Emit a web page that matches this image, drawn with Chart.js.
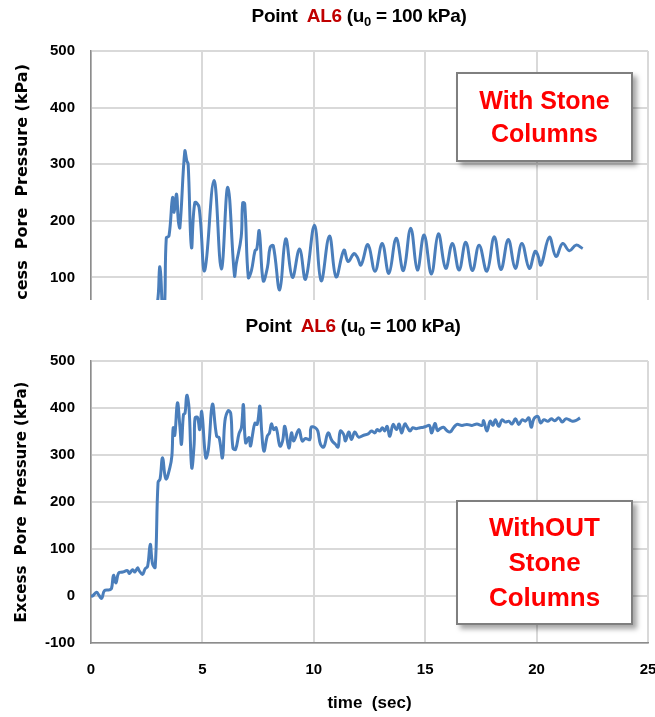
<!DOCTYPE html>
<html>
<head>
<meta charset="utf-8">
<script src="https://cdn.jsdelivr.net/npm/chart.js@4.4.1/dist/chart.umd.min.js"></script>
<style>
  body { margin: 0; background: #fff; width: 655px; height: 717px; position: relative; overflow: hidden; }
  .panel { position: absolute; left: 0; width: 655px; overflow: hidden; background: #fff; }
  .panel canvas { position: absolute; left: 0; top: 0; }
  .title {
    position: absolute; left: 0; width: 718px; text-align: center; z-index: 2;
    font: bold 19px "Liberation Sans", Arial, sans-serif; color: #000; letter-spacing: -0.3px;
  }
  .title .red { color: #c00000; }
  .title sub { font-size: 13px; vertical-align: -4px; }
  .note {
    position: absolute; left: 456px; width: 177px; box-sizing: border-box; z-index: 2;
    border: 2px solid #7f7f7f; background: #fff;
    box-shadow: 4px 4px 5px rgba(0, 0, 0, 0.35);
    display: flex; align-items: center; justify-content: center; text-align: center;
    color: #ff0000; font-family: "Liberation Sans", Arial, sans-serif; font-weight: bold;
  }
</style>
</head>
<body>

<div class="panel" style="top:0; height:300px;">
  <div class="title" style="top:5px;">Point&nbsp; <span class="red">AL6</span> (u<sub>0</sub> = 100 kPa)</div>
  <canvas id="withChart" width="655" height="408"></canvas>
  <div class="note" style="top:72px; height:90px; font-size:25px; line-height:33px;">With Stone<br>Columns</div>
</div>

<div class="panel" style="top:310px; height:407px;">
  <div class="title" style="top:5px; left:-6px;">Point&nbsp; <span class="red">AL6</span> (u<sub>0</sub> = 100 kPa)</div>
  <canvas id="withoutChart" width="655" height="407"></canvas>
  <div class="note" style="top:190px; height:125px; font-size:26px; line-height:35px;">WithOUT<br>Stone<br>Columns</div>
</div>

<script>
// time axis ticks (sec)
const timeTicks = [0, 5, 10, 15, 20, 25];

// With stone columns - time (sec) and excess pore pressure (kPa)
const withTime = [0, 0.4, 0.8, 1.2, 1.6, 2.0, 2.4, 2.8, 2.98, 3.08, 3.13, 3.22, 3.3, 3.38, 3.5, 3.66, 3.73, 3.84, 3.92, 3.99,
  4.21, 4.3, 4.36, 4.51, 4.66, 4.85, 5.1, 5.52, 5.85, 6.14, 6.44, 6.52, 6.74, 6.81, 6.9, 7.06, 7.2, 7.36, 7.44, 7.55,
  7.73, 7.92, 8.04, 8.18, 8.47, 8.74, 9.04, 9.36, 9.63, 10.03, 10.33, 10.7, 11.0, 11.35, 11.54, 11.8, 11.95, 12.12, 12.43, 12.75,
  13.07, 13.37, 13.7, 14.02, 14.35, 14.65, 14.95, 15.28, 15.59, 15.92, 16.22, 16.52, 16.82, 17.12, 17.42, 17.77, 18.1, 18.4, 18.73, 19.04,
  19.34, 19.67, 19.93, 20.05, 20.2, 20.57, 20.87, 21.17, 21.47, 21.77, 22.07];
const withPressure = [0, 3, 10, 25, 35, 38, 42, 45, 55, 118, 105, 40, 45, 170, 173, 241, 215, 247, 200, 188,
  323, 306, 300, 153, 232, 224, 112, 271, 115, 259, 103, 124, 171, 232, 230, 100, 112, 147, 150, 182,
  94, 118, 153, 156, 78, 168, 100, 150, 97, 192, 94, 173, 101, 148, 128, 142, 136, 122, 158, 111,
  160, 107, 169, 112, 187, 113, 175, 106, 177, 116, 160, 113, 162, 112, 157, 111, 172, 114, 167, 116,
  160, 116, 146, 140, 122, 171, 137, 160, 147, 157, 151];

// Without stone columns
const withoutTime = [0, 0.07, 0.25, 0.35, 0.48, 0.6, 0.82, 0.92, 1.01, 1.12, 1.24, 1.42, 1.64, 1.72, 1.87, 1.97, 2.09, 2.16, 2.31, 2.43,
  2.54, 2.66, 2.76, 2.88, 3.01, 3.1, 3.21, 3.36, 3.54, 3.63, 3.69, 3.76, 3.88, 3.99, 4.06, 4.15, 4.22, 4.3, 4.4, 4.52,
  4.63, 4.67, 4.78, 4.88, 4.97, 5.15, 5.27, 5.45, 5.64, 5.75, 5.9, 6.01, 6.15, 6.27, 6.37, 6.49, 6.64, 6.75, 6.84, 6.94,
  7.09, 7.16, 7.24, 7.36, 7.46, 7.58, 7.66, 7.76, 7.91, 8.01, 8.1, 8.2, 8.31, 8.48, 8.6, 8.7, 8.88, 9.0, 9.1, 9.33,
  9.48, 9.63, 9.82, 9.88, 10.07, 10.18, 10.3, 10.45, 10.64, 10.82, 10.97, 11.09, 11.19, 11.34, 11.42, 11.57, 11.69, 11.84, 12.01, 12.24,
  12.44, 12.59, 12.74, 12.84, 12.96, 13.08, 13.18, 13.29, 13.41, 13.56, 13.71, 13.83, 13.94, 14.09, 14.21, 14.32, 14.44, 14.59, 14.77, 14.92,
  15.04, 15.19, 15.29, 15.44, 15.55, 15.67, 15.82, 15.97, 16.12, 16.27, 16.42, 16.65, 16.87, 17.1, 17.32, 17.55, 17.62, 17.77, 17.92, 18.04,
  18.15, 18.3, 18.45, 18.6, 18.75, 18.9, 19.05, 19.2, 19.35, 19.5, 19.65, 19.76, 19.88, 20.06, 20.18, 20.33, 20.51, 20.66, 20.81, 21.0,
  21.15, 21.31, 21.46, 21.6, 21.75, 21.95];
const withoutPressure = [0, 0, 8, 2, -5, 11, 13, 16, 44, 28, 49, 51, 54, 48, 56, 51, 60, 54, 46, 58,
  63, 110, 69, 61, 242, 249, 294, 249, 273, 298, 358, 342, 411, 361, 323, 386, 389, 427, 400, 273,
  323, 379, 380, 354, 392, 294, 312, 408, 340, 337, 294, 372, 394, 389, 315, 312, 345, 358, 407, 326,
  337, 319, 340, 368, 365, 404, 351, 308, 340, 347, 366, 354, 358, 319, 330, 361, 315, 347, 330, 354,
  330, 335, 333, 359, 358, 351, 323, 317, 347, 330, 323, 317, 351, 344, 330, 349, 333, 349, 338, 342,
  345, 351, 347, 354, 351, 358, 351, 361, 340, 365, 354, 366, 347, 366, 358, 351, 358, 356, 358, 359,
  361, 363, 347, 367, 352, 356, 359, 352, 349, 358, 365, 363, 365, 363, 366, 363, 373, 351, 372, 363,
  375, 361, 375, 370, 372, 366, 377, 365, 375, 372, 379, 359, 377, 382, 368, 375, 372, 377, 373, 379,
  370, 377, 375, 372, 373, 379];

const lineBlue = '#4a7ebb';
const gridGrey = '#d9d9d9';
const axisGrey = '#8c8c8c';
const tickFont = { family: "'Liberation Sans', Arial, sans-serif", size: 15, weight: 'bold' };

const makeChart = (canvasId, times, values, yMin, titleSize) => {
  const points = times.map((t, i) => ({ x: t, y: values[i] }));
  return new Chart(document.getElementById(canvasId), {
    type: 'line',
    data: {
      datasets: [{
        data: points,
        borderColor: lineBlue,
        borderWidth: 3,
        pointRadius: 0,
        tension: 0.4,
        fill: false
      }]
    },
    options: {
      responsive: false,
      animation: false,
      layout: { padding: { top: 51, right: 7, left: 0, bottom: 0 } },
      plugins: { legend: { display: false }, tooltip: { enabled: false } },
      scales: {
        x: {
          type: 'linear',
          min: timeTicks[0],
          max: timeTicks[timeTicks.length - 1],
          afterBuildTicks: (s) => { s.ticks = timeTicks.map(v => ({ value: v })); },
          afterFit: (s) => { s.height = 74; s.paddingLeft = 0; s.paddingRight = 0; },
          ticks: { color: '#000', font: tickFont, padding: 18, maxRotation: 0 },
          grid: { color: gridGrey, lineWidth: 2, drawTicks: false },
          border: { color: axisGrey, width: 1.5 },
          title: {
            display: true, text: 'time  (sec)', color: '#000',
            font: { family: "'Liberation Sans', Arial, sans-serif", size: 17, weight: 'bold' },
            padding: { top: 0, bottom: 3 }
          }
        },
        y: {
          min: yMin,
          max: 500,
          ticks: { stepSize: 100, color: '#000', font: tickFont, padding: 16 },
          afterFit: (s) => { s.width = 91; },
          grid: { color: gridGrey, lineWidth: 2, drawTicks: false },
          border: { color: axisGrey, width: 1.5 },
          title: {
            display: true, text: 'Excess  Pore  Pressure (kPa)', color: '#000',
            font: { family: "'DejaVu Sans', Verdana, sans-serif", size: titleSize, weight: 'bold' },
            padding: { top: 13, bottom: 0 }
          }
        }
      }
    }
  });
};

makeChart('withChart', withTime, withPressure, 0, 16);
makeChart('withoutChart', withoutTime, withoutPressure, -100, 15);
</script>
</body>
</html>
